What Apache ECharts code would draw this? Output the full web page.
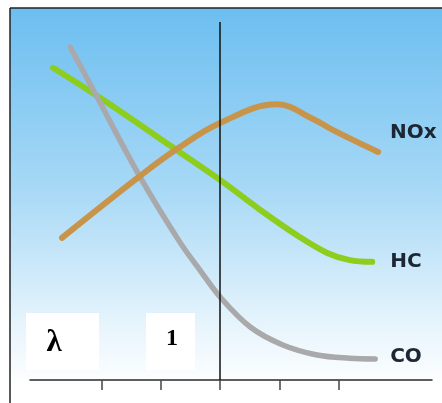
<!DOCTYPE html>
<html>
<head>
<meta charset="utf-8">
<script src="https://cdn.jsdelivr.net/npm/echarts@6/dist/echarts.min.js"></script>
<style>
html,body{margin:0;padding:0;background:#fff;}
#chart{width:442px;height:403px;}
</style>
</head>
<body>
<div id="chart"></div>
<script>
// ---- data (lambda on x, relative emission on y) ----
const lambdaTicks = [0.8, 0.9, 1.0, 1.1, 1.2];
const stoichLambda = 1.0;
const xMin = 0.679, xMax = 1.358;

const hcLambda  = [0.718, 0.803, 0.927, 1.0, 1.068, 1.135, 1.181, 1.219, 1.257];
const hcValue   = [87.2, 78.2, 64.2, 55.9, 47.5, 39.9, 35.5, 33.5, 33.0];

const coLambda  = [0.747, 0.795, 0.865, 0.933, 0.966, 1.0, 1.051, 1.106, 1.164, 1.219, 1.262];
const coValue   = [93.0, 78.2, 56.7, 38.3, 30.7, 23.2, 14.8, 9.8, 7.0, 6.1, 5.9];

const noxLambda = [0.733, 0.865, 0.927, 1.0, 1.096, 1.157, 1.191, 1.267];
const noxValue  = [39.7, 57.0, 64.5, 71.8, 77.0, 72.9, 69.8, 63.7];

const seriesNames = ['HC', 'CO', 'NOx'];
const axisLabelLambda = 'λ';
const axisLabelOne = '1';

// ---- build ----
const pair = (xs, ys) => xs.map((x, i) => [x, ys[i]]);
const W = 442, H = 403;
const gLeft = 30, gRight = 10, gTop = 22, gBottom = 23;
const plotW = W - gLeft - gRight;
const px = v => gLeft + (v - xMin) / (xMax - xMin) * plotW;
const tickMin = lambdaTicks[0], tickMax = lambdaTicks[lambdaTicks.length - 1];

const labelStyle = {color: '#1c2733', fontWeight: 'bold', fontSize: 20, fontFamily: 'DejaVu Sans'};

function lineSeries(name, data, color, width, dist, offY, smooth, extra) {
  return Object.assign({
    name: name, type: 'line', data: data, smooth: smooth, showSymbol: false,
    xAxisIndex: 0, yAxisIndex: 0,
    lineStyle: {color: color, width: width, cap: 'round', join: 'round'},
    endLabel: Object.assign({show: true, formatter: '{a}', distance: dist, offset: [0, offY]}, labelStyle),
    silent: true
  }, extra || {});
}

const chart = echarts.init(document.getElementById('chart'), null, {renderer: 'canvas'});
chart.setOption({
  animation: false,
  backgroundColor: '#ffffff',
  grid: [
    {left: gLeft, right: gRight, top: gTop, bottom: gBottom},
    {left: px(tickMin), right: W - px(tickMax), top: gTop, bottom: gBottom}
  ],
  xAxis: [
    {type: 'value', gridIndex: 0, min: xMin, max: xMax,
     axisLine: {show: true, onZero: false, lineStyle: {color: '#2a2a2a', width: 1.5}},
     axisTick: {show: false}, axisLabel: {show: false}, splitLine: {show: false}},
    {type: 'value', gridIndex: 1, min: tickMin, max: tickMax, interval: 0.1,
     axisLine: {show: false},
     axisTick: {show: true, inside: false, length: 10, lineStyle: {color: '#444', width: 1.5}},
     axisLabel: {show: false}, splitLine: {show: false}}
  ],
  yAxis: [
    {type: 'value', gridIndex: 0, min: 0, max: 100, show: false},
    {type: 'value', gridIndex: 1, min: 0, max: 100, show: false}
  ],
  graphic: [
    {type: 'rect', z: -10, shape: {x: 10, y: 8, width: W - 10, height: H - 8},
     style: {fill: new echarts.graphic.LinearGradient(0, 0, 0, 1, [
       {offset: 0, color: '#6cbef0'},
       {offset: 0.45, color: '#a6d8f6'},
       {offset: 0.8, color: '#e6f4fc'},
       {offset: 0.96, color: '#ffffff'},
       {offset: 1, color: '#ffffff'}
     ])}},
    {type: 'rect', z: -5, shape: {x: 26, y: 313, width: 73, height: 57}, style: {fill: '#ffffff'}},
    {type: 'rect', z: -5, shape: {x: 146, y: 313, width: 49, height: 57}, style: {fill: '#ffffff'}},
    {type: 'text', z: 5, x: 54, y: 343,
     style: {text: axisLabelLambda, fill: '#000', fontSize: 31, fontWeight: 'bold',
             fontFamily: 'Liberation Serif', align: 'center', verticalAlign: 'middle'}},
    {type: 'text', z: 5, x: 172, y: 339,
     style: {text: axisLabelOne, fill: '#000', fontSize: 24, fontWeight: 'bold',
             fontFamily: 'Liberation Serif', align: 'center', verticalAlign: 'middle'}},
    {type: 'line', z: 5, shape: {x1: 10, y1: 8, x2: W, y2: 8}, style: {stroke: '#222', lineWidth: 1.5}},
    {type: 'line', z: 5, shape: {x1: 10, y1: 8, x2: 10, y2: H}, style: {stroke: '#222', lineWidth: 1.5}}
  ],
  series: [
    lineSeries(seriesNames[0], pair(hcLambda, hcValue), '#8ccd1e', 6, 18, 0, 0.35),
    lineSeries(seriesNames[1], pair(coLambda, coValue), '#a9a9ab', 5.5, 15, -2, 0.35, {
      markLine: {
        silent: true, symbol: ['none', 'none'], label: {show: false},
        lineStyle: {color: '#111', width: 1.5, type: 'solid'},
        data: [{xAxis: stoichLambda}]
      }
    }),
    lineSeries(seriesNames[2], pair(noxLambda, noxValue), '#c8944a', 6, 12, -19, 0.4)
  ]
});
</script>
</body>
</html>
